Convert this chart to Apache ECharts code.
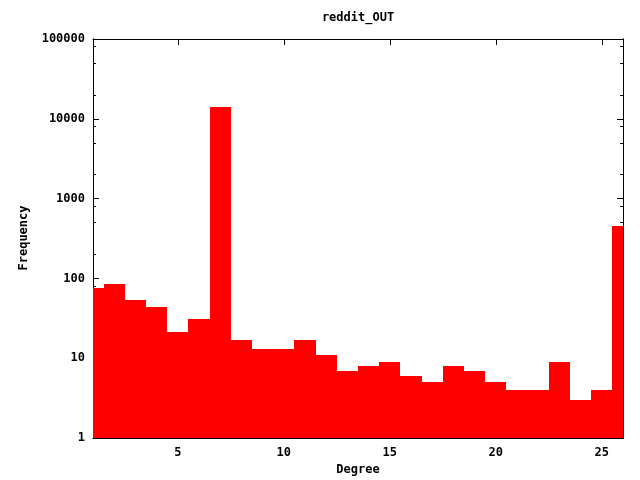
<!DOCTYPE html>
<html>
<head>
<meta charset="utf-8">
<script src="https://cdn.jsdelivr.net/npm/echarts@6/dist/echarts.min.js"></script>
<style>html,body{margin:0;padding:0;background:#fff}#c{width:640px;height:480px}</style>
</head>
<body>
<div id="c"></div>
<script>
var titleText = 'reddit_OUT';
var xName = 'Degree';
var yName = 'Frequency';
var degrees = [1,2,3,4,5,6,7,8,9,10,11,12,13,14,15,16,17,18,19,20,21,22,23,24,25,26];
var freq = [76,85,53,44,21,31,14000,17,13,13,17,11,7,8,9,6,5,8,7,5,4,4,9,3,4,460];
var xTicks = [5,10,15,20,25];
var yTicks = [1,10,100,1000,10000,100000];
var yMinorTicks = [2,5,8,20,50,80,200,500,800,2000,5000,8000,20000,50000,80000];

var FONT = 'bold 12px "DejaVu Sans Mono", "Liberation Mono", monospace';
var chart = echarts.init(document.getElementById('c'), null, {renderer:'canvas'});
var data = degrees.map(function(d,i){return [d, freq[i]];});
var lineStyle = {color:'#000', width:1};
function yAx(pos, vals, len, labels){
  return {
    type:'log', logBase:10, min:1, max:100000, position:pos,
    axisLine:{show:true, onZero:false, lineStyle:lineStyle},
    splitLine:{show:false},
    axisTick:{show:true, inside:true, length:len, customValues:vals, lineStyle:lineStyle},
    axisLabel:labels ? {show:true, customValues:yTicks, margin:8, color:'#000',
      fontFamily:'"DejaVu Sans Mono", monospace', fontWeight:'bold', fontSize:12,
      formatter:function(v){return String(Math.round(v));}} : {show:false}
  };
}
function xAx(pos, labels){
  return {
    type:'value', min:1, max:26, position:pos,
    axisLine:{show:true, onZero:false, lineStyle:lineStyle},
    splitLine:{show:false},
    axisTick:{show:true, inside:true, length:6, customValues:xTicks, lineStyle:lineStyle},
    axisLabel:labels ? {show:true, customValues:xTicks, margin:9, color:'#000',
      fontFamily:'"DejaVu Sans Mono", monospace', fontWeight:'bold', fontSize:12} : {show:false}
  };
}
chart.setOption({
  animation:false,
  backgroundColor:'#fff',
  grid:{left:93, right:17, top:39, bottom:42, containLabel:false},
  xAxis:[xAx('bottom', true), xAx('top', false)],
  yAxis:[yAx('left', yTicks, 6, true), yAx('left', yMinorTicks, 3, false),
         yAx('right', yTicks, 6, false), yAx('right', yMinorTicks, 3, false)],
  series:[{
    type:'custom', xAxisIndex:0, yAxisIndex:0, data:data,
    encode:{x:0, y:1},
    renderItem:function(params, api){
      var x = api.value(0), y = api.value(1);
      var p0 = api.coord([x-0.5, y]);
      var p1 = api.coord([x+0.5, 1]);
      var x0 = Math.round(p0[0]), x1 = Math.round(p1[0]);
      var y0 = Math.round(p0[1]), y1 = Math.round(p1[1]);
      var rect = {x:x0, y:y0, width:x1-x0, height:y1-y0};
      var c = params.coordSys;
      var cl = echarts.graphic.clipRectByRect(rect, {x:c.x, y:c.y, width:c.width, height:c.height});
      return cl && {type:'rect', shape:cl, style:{fill:'#ff0000', stroke:null, lineWidth:0}};
    }
  }],
  graphic:[
    {type:'text', x:358, y:18, style:{text:titleText, font:FONT, fill:'#000', align:'center', verticalAlign:'middle'}},
    {type:'text', x:358, y:470, style:{text:xName, font:FONT, fill:'#000', align:'center', verticalAlign:'middle'}},
    {type:'text', x:24, y:238, rotation:Math.PI/2, style:{text:yName, font:FONT, fill:'#000', align:'center', verticalAlign:'middle'}}
  ]
});
</script>
</body>
</html>
